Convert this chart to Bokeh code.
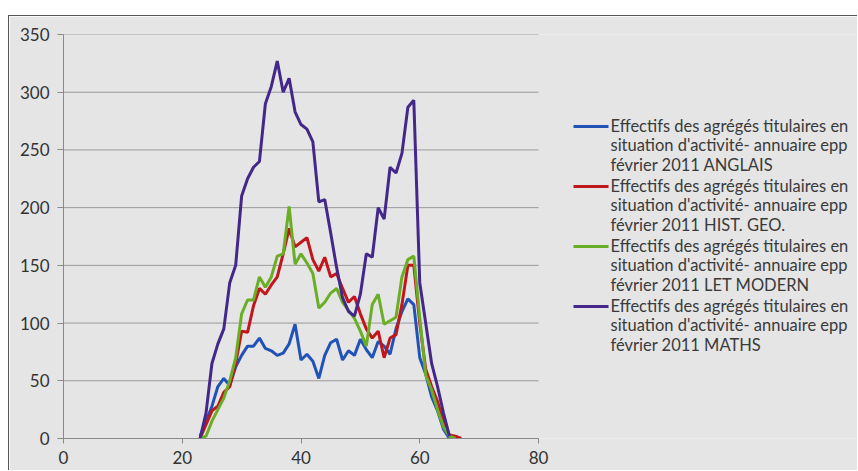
from bokeh.plotting import figure
from bokeh.models import FixedTicker, Spacer, ColumnDataSource, Range1d
from bokeh.core.properties import value
from bokeh.layouts import column, row
from bokeh.embed import file_html
from bokeh.resources import INLINE

ages_anglais = list(range(23, 66))
anglais = [2, 15, 28, 45, 52, 46, 62, 72, 80, 80, 87, 78, 76, 72, 74, 82, 99, 68, 73, 67,
           52, 72, 83, 86, 68, 76, 72, 86, 77, 70, 84, 80, 73, 95, 110, 121, 116, 70, 56, 36,
           24, 8, 0]

ages_histgeo = list(range(23, 68))
histgeo = [0, 12, 24, 28, 40, 45, 65, 93, 92, 115, 130, 125, 133, 140, 160, 182, 166, 170, 174, 155,
           145, 157, 140, 143, 130, 118, 123, 108, 95, 87, 93, 70, 87, 90, 116, 150, 150, 100, 60, 45,
           32, 15, 3, 2, 0]

ages_letmod = list(range(23, 67))
letmod = [0, 2, 15, 25, 35, 50, 70, 108, 120, 120, 140, 131, 140, 158, 160, 201, 151, 160, 152, 143,
          113, 118, 126, 130, 118, 111, 104, 93, 80, 116, 125, 99, 102, 105, 140, 155, 158, 105, 55, 42,
          25, 10, 2, 0]

ages_maths = list(range(23, 66))
maths = [0, 22, 65, 82, 95, 135, 150, 210, 225, 235, 240, 290, 305, 327, 300, 312, 283, 272, 268, 257,
         205, 207, 178, 148, 122, 110, 106, 125, 160, 157, 200, 190, 235, 230, 247, 287, 293, 135, 100, 65,
         45, 22, 2]

label_lines = ["Effectifs des agrégés titulaires en",
               "situation d'activité- annuaire epp",
               "février 2011 "]
series_names = ["ANGLAIS", "HIST. GEO.", "LET MODERN", "MATHS"]
colors = ["#2152b8", "#c0161c", "#6aae26", "#43288a"]

x_ticks = [0, 20, 40, 60, 80]
y_ticks = [0, 50, 100, 150, 200, 250, 300, 350]

BG = "#e5e5e5"
FONT = "Lato"
W, H = 849, 455
MB_LEFT, MB_TOP, MB_BOTTOM = 54, 18, 33
FW = W - MB_LEFT              # frame width (frame runs to the right edge)
FH = H - MB_TOP - MB_BOTTOM   # frame height
PLOT_W = 475                  # pixel width used by the 0..80 axis
x_end = x_ticks[-1] * FW / PLOT_W

p = figure(width=W, height=H, x_range=Range1d(x_ticks[0], x_end), y_range=Range1d(y_ticks[0], y_ticks[-1]),
           output_backend="svg", toolbar_location=None,
           min_border_left=MB_LEFT, min_border_right=0, min_border_top=MB_TOP, min_border_bottom=MB_BOTTOM)
p.background_fill_color = BG
p.border_fill_color = BG
p.outline_line_color = None
p.styles = {"border-top": "1px solid #555555", "border-left": "1px solid #555555"}
p.extra_x_ranges = {"px": Range1d(0, FW)}
p.extra_y_ranges = {"px": Range1d(0, FH)}

p.xgrid.grid_line_color = None
p.ygrid.grid_line_color = None
# horizontal gridlines limited to the axis extent
p.segment(x0=[x_ticks[0]] * len(y_ticks), x1=[x_ticks[-1]] * len(y_ticks), y0=y_ticks, y1=y_ticks,
          line_color="#9a9a9a", line_width=1)

p.yaxis.ticker = FixedTicker(ticks=y_ticks)
p.xaxis.ticker = FixedTicker(ticks=x_ticks)
p.xaxis.bounds = (x_ticks[0], x_ticks[-1])
for ax in (p.xaxis[0], p.yaxis[0]):
    ax.axis_line_color = "#8a8a8a"
    ax.major_tick_line_color = "#8a8a8a"
    ax.major_tick_in = 0
    ax.minor_tick_line_color = None
    ax.major_label_text_font = FONT
    ax.major_label_text_font_size = "17px"
    ax.major_label_text_color = "#333333"
p.yaxis.major_tick_out = 6
p.xaxis.major_tick_out = 5
p.yaxis.major_label_standoff = 8
p.xaxis.major_label_standoff = 7

xs = [ages_anglais, ages_histgeo, ages_letmod, ages_maths]
ys = [anglais, histgeo, letmod, maths]
for x, y, c in zip(xs, ys, colors):
    p.line(x, y, line_color=c, line_width=3)

# ---------------- legend drawn in pixel ranges ----------------
top0 = FH - 91
pitch = 60
row_h = 19.5
seg_x0, seg_x1, txt_x = 510, 545, 547

seg = dict(x0=[], x1=[], y=[], color=[])
txt = dict(x=[], y=[], text=[])
for k, (name, c) in enumerate(zip(series_names, colors)):
    base = top0 - k * pitch
    seg["x0"].append(seg_x0)
    seg["x1"].append(seg_x1)
    seg["y"].append(base - 1)
    seg["color"].append(c)
    lines = label_lines[:2] + [label_lines[2] + name]
    for j, t in enumerate(lines):
        txt["x"].append(txt_x)
        txt["y"].append(base - j * row_h)
        txt["text"].append(t)

p.segment(x0="x0", y0="y", x1="x1", y1="y", line_color="color", line_width=3,
          source=ColumnDataSource(seg), x_range_name="px", y_range_name="px")
p.text(x="x", y="y", text="text", source=ColumnDataSource(txt),
       x_range_name="px", y_range_name="px",
       text_font=value(FONT), text_font_size=value("16.5px"), text_color="#3a3a3a",
       text_align="left", text_baseline="middle")

layout = column(Spacer(height=15, width=850),
                row(Spacer(width=8, height=H), p))
open("out.html", "w").write(file_html(layout, INLINE))
